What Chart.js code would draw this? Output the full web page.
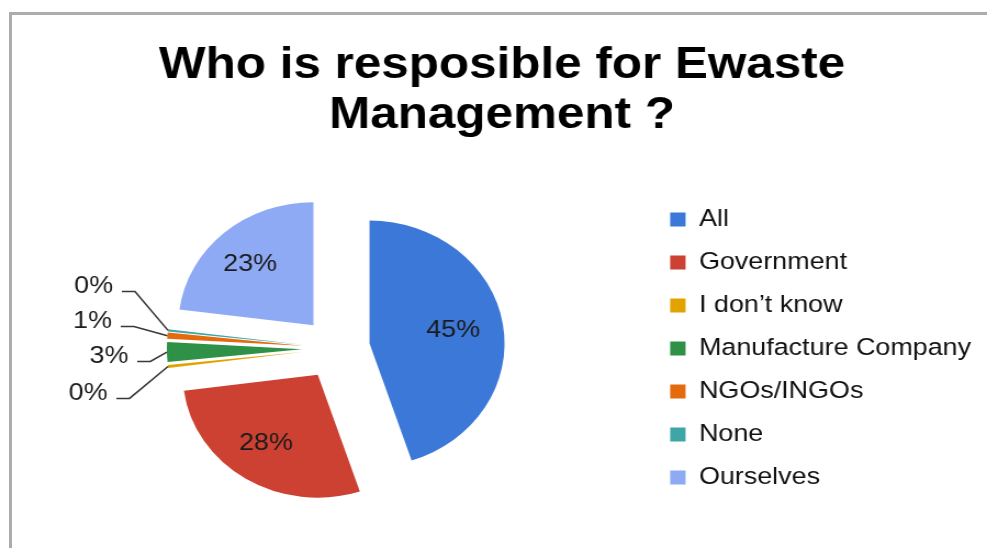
<!DOCTYPE html>
<html>
<head>
<meta charset="utf-8">
<script src="https://cdn.jsdelivr.net/npm/chart.js@4.4.1/dist/chart.umd.min.js"></script>
<style>
  html, body { margin: 0; padding: 0; background: #fff; overflow: hidden; }
  #frame { position: absolute; left: 9px; top: 12px; width: 1000px; height: 600px;
           border-left: 3px solid #acacac; border-top: 3px solid #acacac; }
  #wrap { position: absolute; left: 0; top: 0; width: 899px; height: 548px;
          transform: scaleX(1.0979); transform-origin: 0 0; }
</style>
</head>
<body>
<div id="frame"></div>
<div id="wrap"><canvas id="chart"></canvas></div>
<script>
const categories = ['All', 'Government', 'I don\u2019t know', 'Manufacture Company', 'NGOs/INGOs', 'None', 'Ourselves'];
const shares = [45, 28, 0.4, 2.6, 0.8, 0.3, 23];
const colors = ['#3c78d8', '#cc4132', '#e1a300', '#2e9147', '#e36a0d', '#3fa6a8', '#8eaaf4'];

const FONT = "'Liberation Sans', Arial, sans-serif";
const EXPLODE = 31;

// leader line elbows for the tiny slices, relative to pie centre
const calloutPos = { 2: [-188, 50], 3: [-169, 13], 4: [-184, -22], 5: [-183, -57] };

Chart.defaults.font.family = FONT;

const explodePlugin = {
  id: 'explode',
  beforeDatasetDraw(chart, args) {
    const ctx = chart.ctx;
    args.meta.data.forEach(arc => {
      const mid = (arc.startAngle + arc.endAngle) / 2;
      ctx.save();
      ctx.translate(Math.cos(mid) * EXPLODE, Math.sin(mid) * EXPLODE);
      arc.draw(ctx);
      ctx.restore();
    });
    return false;
  }
};

const labelPlugin = {
  id: 'sliceLabels',
  afterDatasetsDraw(chart) {
    const ctx = chart.ctx;
    const meta = chart.getDatasetMeta(0);
    const total = shares.reduce((a, b) => a + b, 0);
    ctx.save();
    ctx.font = '24.5px ' + FONT;
    ctx.fillStyle = '#1b1b1b';
    meta.data.forEach((arc, i) => {
      const pct = Math.round(shares[i] / total * 100) + '%';
      const mid = (arc.startAngle + arc.endAngle) / 2;
      const cos = Math.cos(mid), sin = Math.sin(mid);
      if (calloutPos[i]) {
        const ax = arc.x + cos * (EXPLODE + arc.outerRadius);
        const ay = arc.y + sin * (EXPLODE + arc.outerRadius);
        const ex = arc.x + calloutPos[i][0];
        const ey = arc.y + calloutPos[i][1];
        ctx.strokeStyle = '#383838';
        ctx.lineWidth = 1.6;
        ctx.beginPath();
        ctx.moveTo(ex - 12, ey);
        ctx.lineTo(ex, ey);
        ctx.lineTo(ax, ay);
        ctx.stroke();
        ctx.textAlign = 'right';
        ctx.textBaseline = 'alphabetic';
        ctx.fillText(pct, ex - 20, ey + 2);
      } else {
        const d = EXPLODE + arc.outerRadius * 0.66;
        ctx.textAlign = 'center';
        ctx.textBaseline = 'middle';
        ctx.fillText(pct, arc.x + cos * d - 4, arc.y + sin * d);
      }
    });
    ctx.restore();
  }
};

var ctx = document.getElementById('chart').getContext('2d');

var chart = new Chart(ctx, {
  type: 'pie',
  data: {
    labels: categories,
    datasets: [{
      data: shares,
      backgroundColor: colors,
      borderWidth: 0
    }]
  },
  options: {
    responsive: true,
    maintainAspectRatio: false,
    animation: false,
    radius: 123,
    layout: { padding: { left: 20, right: 4.5, top: 0, bottom: 0 } },
    plugins: {
      title: {
        display: true,
        text: ['Who is resposible for Ewaste', 'Management ?'],
        color: '#000',
        font: { size: 45, weight: 'bold', lineHeight: 1.11 },
        padding: { top: 41, bottom: 8 }
      },
      legend: {
        position: 'right',
        fullSize: false,
        align: 'center',
        labels: {
          color: '#111',
          font: { size: 24.5 },
          boxWidth: 14,
          boxHeight: 14,
          padding: 18.5
        }
      },
      tooltip: { enabled: false }
    }
  },
  plugins: [explodePlugin, labelPlugin]
});
</script>
</body>
</html>
